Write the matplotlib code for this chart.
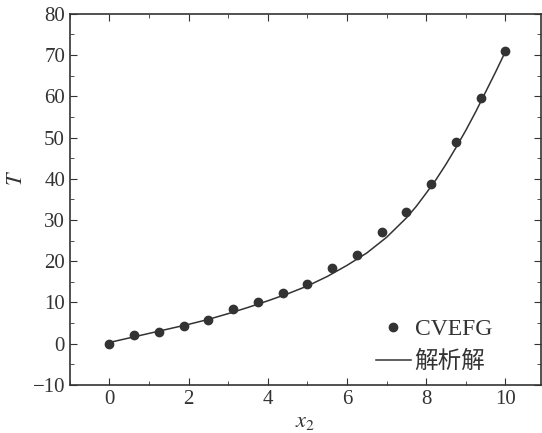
import numpy as np
import matplotlib.pyplot as plt
from matplotlib.ticker import MultipleLocator

# CVEFG numerical points
x_num = [0, 0.625, 1.25, 1.875, 2.5, 3.125, 3.75, 4.375, 5.0,
         5.625, 6.25, 6.875, 7.5, 8.125, 8.75, 9.375, 10.0]
T_num = [0.0, 2.0, 2.8, 4.2, 5.8, 8.3, 10.1, 12.3, 14.4,
         18.4, 21.4, 27.2, 32.0, 38.7, 49.0, 59.5, 71.0]

# analytical solution
x_ana = [0, 0.5, 1, 1.5, 2, 2.5, 3, 3.5, 4, 4.5, 5, 5.5, 6, 6.5, 7,
         7.5, 7.75, 8, 8.25, 8.5, 8.75, 9, 9.25, 9.5, 9.75, 10]
T_ana = [0.3, 1.4, 2.5, 3.6, 4.7, 5.9, 7.3, 8.8, 10.4, 12.1, 14.0, 16.3, 19.0, 22.0, 25.8,
         30.5, 33.3, 36.5, 39.8, 43.5, 47.5, 51.7, 56.2, 61.0, 65.8, 70.8]

plt.rcParams['font.family'] = ['Liberation Serif', 'Noto Sans CJK SC']
plt.rcParams['mathtext.fontset'] = 'stix'

ink = '#333333'
fig = plt.figure(figsize=(5.42, 4.33), dpi=100)
ax = fig.add_axes([0.129, 0.111, 0.869, 0.857])

ax.plot(x_num, T_num, 'o', color=ink, markersize=6, label='CVEFG')
ax.plot(x_ana, T_ana, '-', color=ink, linewidth=1.1, label='解析解')

ax.set_xlim(-1, 10.9)
ax.set_ylim(-10, 80)
ax.xaxis.set_major_locator(MultipleLocator(2))
ax.xaxis.set_minor_locator(MultipleLocator(1))
ax.yaxis.set_major_locator(MultipleLocator(10))
ax.yaxis.set_minor_locator(MultipleLocator(5))
ax.tick_params(which='both', direction='in', top=True, right=True,
               colors=ink, labelsize=15, labelcolor=ink)
ax.tick_params(which='major', length=5)
ax.tick_params(which='minor', length=3)
for s in ax.spines.values():
    s.set_color(ink)
    s.set_linewidth(1.2)

ax.set_xlabel('$x_2$', fontsize=16, color=ink, labelpad=3)
ax.set_ylabel('$T$', fontsize=16, color=ink)
ax.yaxis.set_label_coords(-0.092, 0.558)

leg = ax.legend(loc='lower left', frameon=False, fontsize=17,
                bbox_to_anchor=(0.624, 0.0), borderpad=0, handlelength=1.5,
                handletextpad=0.15, labelspacing=0.45)
for t in leg.get_texts():
    t.set_color(ink)

fig.savefig('out.png', dpi=100)
